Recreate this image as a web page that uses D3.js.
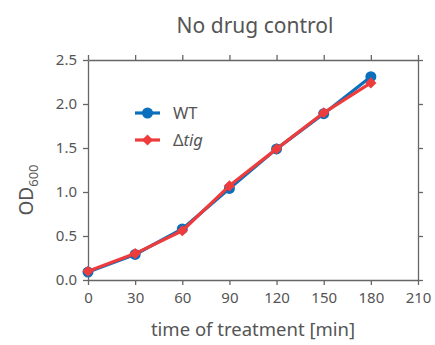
<!DOCTYPE html>
<html><head><meta charset="utf-8">
<script src="https://cdn.jsdelivr.net/npm/d3@7"></script>
<style>body{margin:0;background:#fff}svg{display:block}text{font-family:"Noto Sans",sans-serif;fill:#555}</style>
</head><body><svg id="c" width="435" height="345"></svg>
<script>
const times = [0, 30, 60, 90, 120, 150, 180];
const wtValues = [0.09, 0.29, 0.58, 1.04, 1.49, 1.89, 2.31];
const tigValues = [0.10, 0.30, 0.56, 1.07, 1.49, 1.90, 2.24];
const xTicks = [0, 30, 60, 90, 120, 150, 180, 210];
const yTicks = [0, 0.5, 1.0, 1.5, 2.0, 2.5];
const seriesNames = ["WT", "tig"];

const svg = d3.select("#c");
const L = 88, R = 418, T = 60, B = 280;
const x = d3.scaleLinear().domain([0, 210]).range([L, R]);
const y = d3.scaleLinear().domain([0, 2.5]).range([B, T]);
const axisColor = "#666";
const blue = "#0a6fbd", red = "#ee3b3b";

function styleAxis(g, showLabels) {
  g.select(".domain").attr("stroke", axisColor).attr("stroke-width", 1.3);
  g.selectAll(".tick line").attr("stroke", axisColor).attr("stroke-width", 1.3);
  g.selectAll(".tick text").style("font-size", "15px").attr("fill", "#555");
  if (!showLabels) g.selectAll(".tick text").remove();
}
svg.append("g").attr("transform", `translate(0,${B})`)
  .call(d3.axisBottom(x).tickValues(xTicks).tickSize(5).tickPadding(7).tickSizeOuter(0))
  .call(g => styleAxis(g, true));
svg.append("g").attr("transform", `translate(0,${T})`)
  .call(d3.axisTop(x).tickValues(xTicks).tickSize(5).tickSizeOuter(0))
  .call(g => styleAxis(g, false));
svg.append("g").attr("transform", `translate(${L},0)`)
  .call(d3.axisLeft(y).tickValues(yTicks).tickFormat(d3.format(".1f")).tickSize(5).tickPadding(6).tickSizeOuter(0))
  .call(g => styleAxis(g, true));
svg.append("g").attr("transform", `translate(${R},0)`)
  .call(d3.axisRight(y).tickValues(yTicks).tickSize(5).tickSizeOuter(0))
  .call(g => styleAxis(g, false));

const line = d3.line().x((d, i) => x(times[i])).y(d => y(d));
const diamond = d3.symbol().type(d3.symbolSquare).size(62);

function drawSeries(vals, color, marker) {
  svg.append("path").datum(vals).attr("d", line).attr("fill", "none")
    .attr("stroke", color).attr("stroke-width", 3.2).attr("stroke-linejoin", "round");
  const g = svg.append("g");
  vals.forEach((v, i) => {
    if (marker === "circle") g.append("circle").attr("cx", x(times[i])).attr("cy", y(v)).attr("r", 5.5).attr("fill", color);
    else g.append("path").attr("d", diamond).attr("transform", `translate(${x(times[i])},${y(v)}) rotate(45)`).attr("fill", color);
  });
}
drawSeries(wtValues, blue, "circle");
drawSeries(tigValues, red, "diamond");

// legend
const lg = svg.append("g");
lg.append("line").attr("x1", 135).attr("x2", 160).attr("y1", 113).attr("y2", 113).attr("stroke", blue).attr("stroke-width", 3.2);
lg.append("circle").attr("cx", 147.5).attr("cy", 113).attr("r", 5.5).attr("fill", blue);
lg.append("text").attr("x", 173).attr("y", 119).style("font-size", "16.5px").text(seriesNames[0]);
lg.append("line").attr("x1", 135).attr("x2", 160).attr("y1", 140).attr("y2", 140).attr("stroke", red).attr("stroke-width", 3.2);
lg.append("path").attr("d", diamond).attr("transform", "translate(147.5,140) rotate(45)").attr("fill", red);
const t2 = lg.append("text").attr("x", 173).attr("y", 146).style("font-size", "16.5px");
t2.append("tspan").text("Δ");
t2.append("tspan").style("font-style", "italic").text(seriesNames[1]);

// title & labels
svg.append("text").attr("x", 255).attr("y", 33).attr("text-anchor", "middle").style("font-size", "21px").text("No drug control");
svg.append("text").attr("x", 253).attr("y", 336).attr("text-anchor", "middle").style("font-size", "18.5px").text("time of treatment [min]");
const yl = svg.append("text").attr("transform", "translate(33,190) rotate(-90)").attr("text-anchor", "middle").style("font-size", "19px");
yl.append("tspan").text("OD");
yl.append("tspan").attr("dy", 5).style("font-size", "13px").text("600");
</script></body></html>
